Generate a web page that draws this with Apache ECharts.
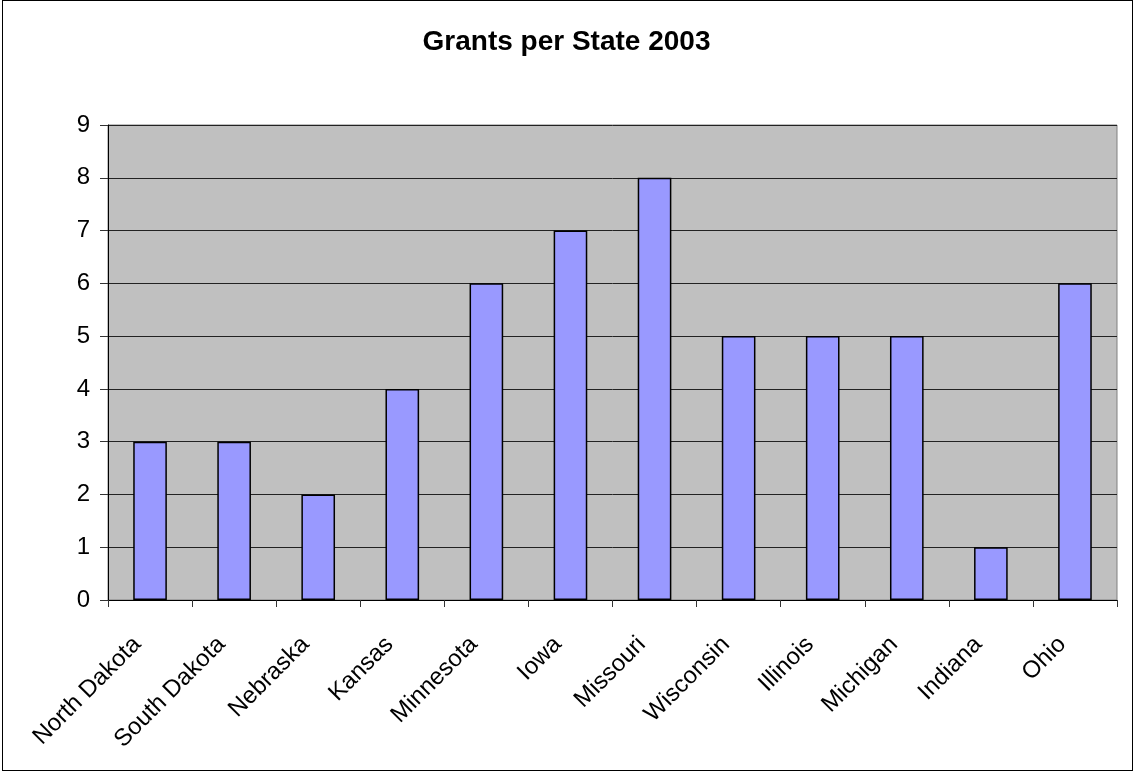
<!DOCTYPE html>
<html>
<head>
<meta charset="utf-8">
<script src="https://cdn.jsdelivr.net/npm/echarts@6/dist/echarts.min.js"></script>
<style>
  html, body { margin: 0; padding: 0; background: #fff; }
  #frame { position: absolute; left: 2px; top: 0px; width: 1129px; height: 769px; border: 1px solid #000; box-sizing: content-box; }
  #chart { position: absolute; left: 0; top: 0; width: 1133px; height: 772px; }
</style>
</head>
<body>
<div id="chart"></div>
<div id="frame"></div>
<script>
const categories = ['North Dakota', 'South Dakota', 'Nebraska', 'Kansas', 'Minnesota', 'Iowa', 'Missouri', 'Wisconsin', 'Illinois', 'Michigan', 'Indiana', 'Ohio'];
const grants = [3, 3, 2, 4, 6, 7, 8, 5, 5, 5, 1, 6];
const yTicks = [0, 1, 2, 3, 4, 5, 6, 7, 8, 9];
const titleText = 'Grants per State 2003';

const FONT = "'Liberation Sans', Arial, sans-serif";
const chart = echarts.init(document.getElementById('chart'), null, { renderer: 'canvas' });
chart.setOption({
  animation: false,
  backgroundColor: '#ffffff',
  title: {
    text: titleText,
    left: 'center',
    top: 23,
    textStyle: { fontFamily: FONT, fontSize: 28, fontWeight: 'bold', color: '#000' }
  },
  grid: {
    left: 108, right: 16, top: 125, bottom: 172,
    show: true, backgroundColor: '#C0C0C0', borderColor: '#808080', borderWidth: 1
  },
  xAxis: {
    type: 'category',
    data: categories,
    boundaryGap: true,
    axisLine: { show: true, lineStyle: { color: '#000', width: 1 } },
    axisTick: { show: true, length: 7, lineStyle: { color: '#333' } },
    axisLabel: {
      rotate: 45, interval: 0, margin: 28, padding: [0, 18, 0, 0],
      fontFamily: FONT, fontSize: 24, color: '#000'
    },
    splitLine: { show: false }
  },
  yAxis: {
    type: 'value',
    min: yTicks[0], max: yTicks[yTicks.length - 1], interval: 1,
    axisLine: { show: true, lineStyle: { color: '#000', width: 1 } },
    axisTick: { show: true, length: 8, lineStyle: { color: '#333' } },
    axisLabel: { margin: 18, fontFamily: FONT, fontSize: 24, color: '#000' },
    splitLine: { show: true, lineStyle: { color: '#222', width: 1 } }
  },
  series: [{
    type: 'bar',
    data: grants,
    barCategoryGap: '60%',
    itemStyle: { color: '#9999FF', borderColor: '#000', borderWidth: 1.5 }
  }]
});
</script>
</body>
</html>
